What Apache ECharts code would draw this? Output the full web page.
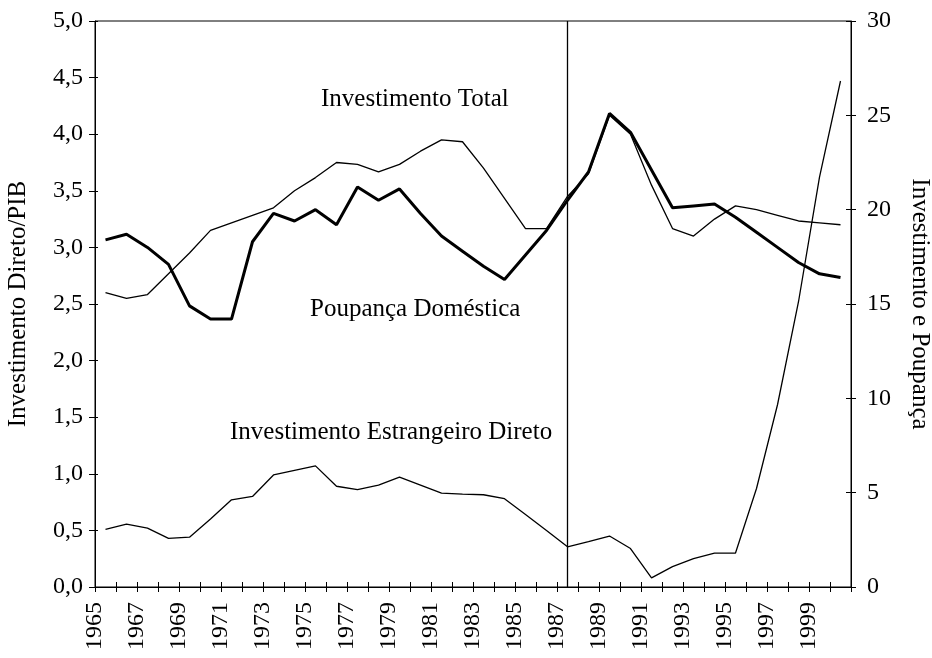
<!DOCTYPE html>
<html>
<head>
<meta charset="utf-8">
<script src="https://cdn.jsdelivr.net/npm/echarts@6/dist/echarts.min.js"></script>
<style>
html,body{margin:0;padding:0;background:#fff;}
#container{width:932px;height:658px;}
</style>
</head>
<body>
<div id="container"></div>
<script>
var years = ['1965','1966','1967','1968','1969','1970','1971','1972','1973','1974',
	'1975','1976','1977','1978','1979','1980','1981','1982','1983','1984',
	'1985','1986','1987','1988','1989','1990','1991','1992','1993','1994',
	'1995','1996','1997','1998','1999','2000'];
// Investimento Total (eixo direito)
var investTotal = [15.6,15.3,15.5,16.6,17.7,18.9,19.3,19.7,20.1,21.0,
	21.7,22.5,22.4,22.0,22.4,23.1,23.7,23.6,22.2,20.6,
	19.0,19.0,20.7,21.9,25.0,24.0,21.3,19.0,18.6,19.5,
	20.2,20.0,19.7,19.4,19.3,19.2];
// Poupança Doméstica (eixo direito)
var poupanca = [18.4,18.7,18.0,17.1,14.9,14.2,14.2,18.3,19.8,19.4,
	20.0,19.2,21.2,20.5,21.1,19.8,18.6,17.8,17.0,16.3,
	17.6,18.9,20.5,22.0,25.1,24.1,22.1,20.1,20.2,20.3,
	19.6,18.8,18.0,17.2,16.6,16.4];
// Investimento Estrangeiro Direto / PIB (eixo esquerdo)
var ied = [0.51,0.555,0.52,0.43,0.44,0.60,0.77,0.80,0.99,1.03,
	1.07,0.89,0.86,0.90,0.97,0.90,0.83,0.82,0.815,0.78,
	0.64,0.50,0.355,0.40,0.45,0.34,0.08,0.18,0.25,0.30,
	0.30,0.87,1.61,2.52,3.62,4.47];
var markYear = '1987';

var serif = 'Liberation Serif';
var tickFont = {color:'#000', fontFamily:serif, fontSize:24};

var myChart = echarts.init(document.getElementById('container'));
var option = {
	backgroundColor:'#fff',
	animation:false,
	grid:{left:95, right:81, top:21, bottom:71, show:true, borderColor:'#000', borderWidth:1,
		containLabel:false, outerBoundsMode:'none'},
	xAxis:[
		{
			type:'value', min:1965, max:2001, interval:1, position:'bottom',
			axisLine:{lineStyle:{color:'#000', width:1}},
			axisTick:{inside:false, length:5, lineStyle:{color:'#000'}},
			splitLine:{show:false},
			axisLabel:{rotate:90, margin:15, color:'#000', fontFamily:serif, fontSize:24,
				formatter:function(v){ return (v % 2 == 1 && v < 2000) ? String(v) : ''; }}
		},
		{
			type:'value', min:1965, max:2001, interval:1, position:'bottom', offset:0,
			axisLine:{show:false},
			axisTick:{inside:true, length:5, lineStyle:{color:'#000'}},
			axisLabel:{show:false}, splitLine:{show:false}
		},
		{
			type:'category', data:years, boundaryGap:true, show:false
		}
	],
	yAxis:[
		{
			type:'value', min:0, max:5, interval:0.5, position:'left',
			name:'Investimento Direto/PIB', nameLocation:'middle', nameGap:64,
			nameTextStyle:{color:'#000', fontFamily:serif, fontSize:25},
			axisLine:{show:true, lineStyle:{color:'#000'}},
			axisTick:{show:true, length:6, lineStyle:{color:'#000'}},
			splitLine:{show:false},
			axisLabel:Object.assign({margin:12, formatter:function(v){ return v.toFixed(1).replace('.', ','); }}, tickFont)
		},
		{
			type:'value', min:0, max:30, interval:5, position:'right',
			name:'Investimento e Poupança', nameLocation:'middle', nameGap:56, nameRotate:-90,
			nameTextStyle:{color:'#000', fontFamily:serif, fontSize:25},
			axisLine:{show:true, lineStyle:{color:'#000'}},
			axisTick:{show:true, length:5, lineStyle:{color:'#000'}},
			splitLine:{show:false},
			axisLabel:Object.assign({margin:16}, tickFont)
		},
		{
			type:'value', min:0, max:5, interval:0.5, position:'left', offset:0,
			axisLine:{show:false}, axisLabel:{show:false}, splitLine:{show:false},
			axisTick:{show:true, inside:true, length:3, lineStyle:{color:'#000'}}
		},
		{
			type:'value', min:0, max:30, interval:5, position:'right', offset:0,
			axisLine:{show:false}, axisLabel:{show:false}, splitLine:{show:false},
			axisTick:{show:true, inside:true, length:5, lineStyle:{color:'#000'}}
		}
	],
	series:[
		{
			name:'Investimento Total', type:'line', xAxisIndex:2, yAxisIndex:1,
			data:investTotal, symbol:'none', lineStyle:{color:'#000', width:1.3}
		},
		{
			name:'Poupança Doméstica', type:'line', xAxisIndex:2, yAxisIndex:1,
			data:poupanca, symbol:'none', lineStyle:{color:'#000', width:3}
		},
		{
			name:'Investimento Estrangeiro Direto', type:'line', xAxisIndex:2, yAxisIndex:0,
			data:ied, symbol:'none', lineStyle:{color:'#000', width:1.3},
			markLine:{
				silent:true, symbol:'none', label:{show:false},
				lineStyle:{color:'#000', width:1.3, type:'solid'},
				data:[{xAxis:markYear}]
			}
		}
	],
	graphic:[
		{type:'text', left:321, top:87, style:{text:'Investimento Total', fill:'#000', font:'25px "Liberation Serif"'}},
		{type:'text', left:310, top:297, style:{text:'Poupança Doméstica', fill:'#000', font:'25px "Liberation Serif"'}},
		{type:'text', left:230, top:420, style:{text:'Investimento Estrangeiro Direto', fill:'#000', font:'25px "Liberation Serif"'}}
	]
};
myChart.setOption(option,true);
</script>
</body>
</html>
